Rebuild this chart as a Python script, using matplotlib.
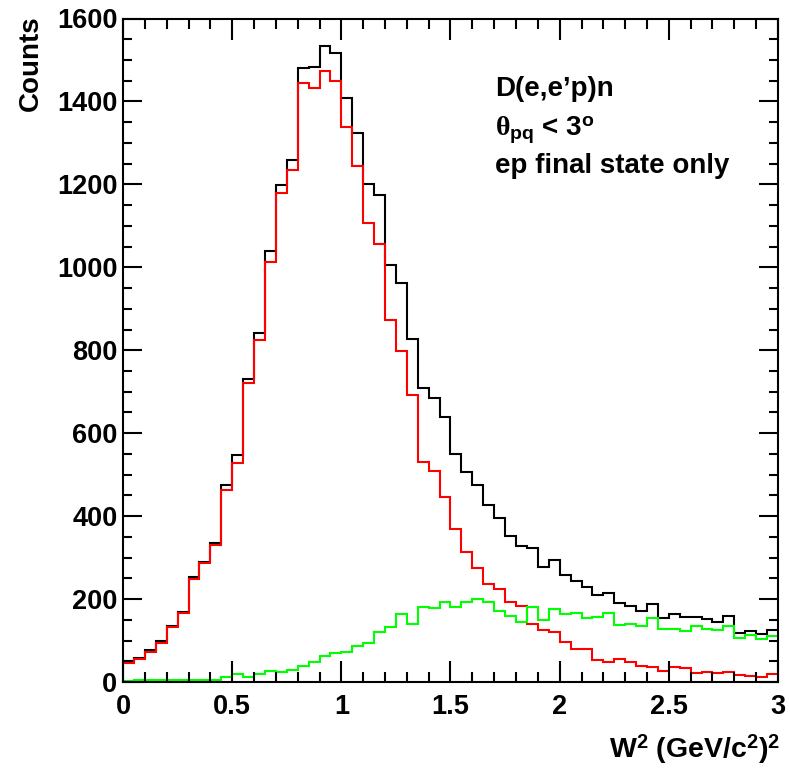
# %% W2 spectrum, D(e,e'p)n, ROOT-style step histograms

import numpy as np
import matplotlib

matplotlib.use("Agg")
import matplotlib.pyplot as plt
from matplotlib.ticker import MultipleLocator

plt.rcParams["font.family"] = ["Liberation Sans", "DejaVu Sans"]
plt.rcParams["font.weight"] = "bold"
plt.rcParams["mathtext.fontset"] = "custom"
plt.rcParams["mathtext.rm"] = "Liberation Sans:bold"
plt.rcParams["mathtext.it"] = "Liberation Serif"  # only the greek theta uses this
plt.rcParams["mathtext.bf"] = "Liberation Sans:bold"
plt.rcParams["mathtext.sf"] = "Liberation Sans:bold"

## Data (60 bins of 0.05 in W^2)
bin_edges = np.linspace(0.0, 3.0, 61)

all_counts = [
    50, 58, 76, 98, 136, 170, 252, 290, 334, 475,
    547, 731, 842, 1039, 1198, 1259, 1480, 1482, 1534, 1518,
    1409, 1325, 1201, 1175, 1006, 963, 827, 708, 686, 640,
    550, 506, 474, 428, 395, 353, 329, 322, 277, 293,
    258, 244, 230, 210, 215, 190, 183, 172, 188, 154,
    163, 156, 156, 151, 145, 159, 119, 122, 115, 125,
]

ep_only_counts = [
    46, 55, 73, 95, 132, 167, 248, 286, 330, 463,
    527, 720, 825, 1013, 1178, 1235, 1444, 1433, 1473, 1450,
    1339, 1244, 1106, 1056, 873, 799, 692, 530, 510, 447,
    369, 313, 274, 236, 224, 192, 184, 140, 125, 120,
    97, 79, 79, 53, 49, 55, 49, 39, 37, 27,
    37, 33, 22, 25, 21, 24, 17, 14, 13, 19,
]

other_counts = [
    2, 4, 4, 5, 4, 5, 5, 5, 6, 13,
    19, 13, 19, 27, 23, 29, 39, 49, 62, 70,
    72, 88, 95, 120, 132, 165, 139, 180, 178, 192,
    180, 194, 200, 192, 171, 160, 145, 182, 150, 175,
    164, 167, 154, 157, 167, 137, 139, 135, 154, 127,
    129, 124, 135, 127, 125, 136, 107, 113, 104, 111,
]

## Figure
fig = plt.figure(figsize=(7.9, 7.68), dpi=100)
ax = fig.add_axes([123 / 790, 1 - 682 / 768, 655 / 790, (682 - 18.5) / 768])

ax.stairs(all_counts, bin_edges, baseline=None, color="black", linewidth=1.5)
ax.stairs(ep_only_counts, bin_edges, baseline=None, color="#ff0000", linewidth=1.5)
ax.stairs(other_counts, bin_edges, baseline=None, color="#00ff00", linewidth=1.5)

ax.set_xlim(0, 3)
ax.set_ylim(0, 1600)

# ROOT-like axes: ticks inside on all four sides
ax.xaxis.set_major_locator(MultipleLocator(0.5))
ax.xaxis.set_minor_locator(MultipleLocator(0.1))
ax.yaxis.set_major_locator(MultipleLocator(200))
ax.yaxis.set_minor_locator(MultipleLocator(50))
ax.set_xticks([0, 0.5, 1, 1.5, 2, 2.5, 3])
ax.set_xticklabels(["0", "0.5", "1", "1.5", "2", "2.5", "3"])

ax.tick_params(axis="both", which="both", direction="in", top=True, right=True,
               width=1.5, labelsize=19.5)
ax.tick_params(axis="x", which="major", length=15, pad=9)
ax.tick_params(axis="x", which="minor", length=7.5)
ax.tick_params(axis="y", which="major", length=13.5, pad=4)
ax.tick_params(axis="y", which="minor", length=6.3)
for label in ax.get_xticklabels() + ax.get_yticklabels():
    label.set_fontweight("bold")
for side in ["top", "bottom", "left", "right"]:
    ax.spines[side].set_linewidth(1.5)

# Axis titles
fig.text(31 / 790, 1 - 15 / 768, "Counts", rotation=90, ha="center", va="top",
         fontsize=20, fontweight="bold")
fig.text(780 / 790, 1 - 757 / 768,
         r"W$^{\mathbf{2}}$ (GeV/c$^{\mathbf{2}}$)$^{\mathbf{2}}$",
         ha="right", va="baseline", fontsize=20.5, fontweight="bold")

# Annotation block
fig.text(495 / 790, 1 - 96 / 768, "D(e,e’p)n", ha="left", va="baseline",
         fontsize=20, fontweight="bold")
fig.text(495 / 790, 1 - 136 / 768, r"$\theta_{\mathbf{pq}}$ < 3$^{\mathbf{o}}$",
         ha="left", va="baseline", fontsize=20, fontweight="bold")
fig.text(495 / 790, 1 - 173 / 768, "ep final state only", ha="left",
         va="baseline", fontsize=20, fontweight="bold")

fig.savefig("out.png", dpi=100)
plt.close(fig)
